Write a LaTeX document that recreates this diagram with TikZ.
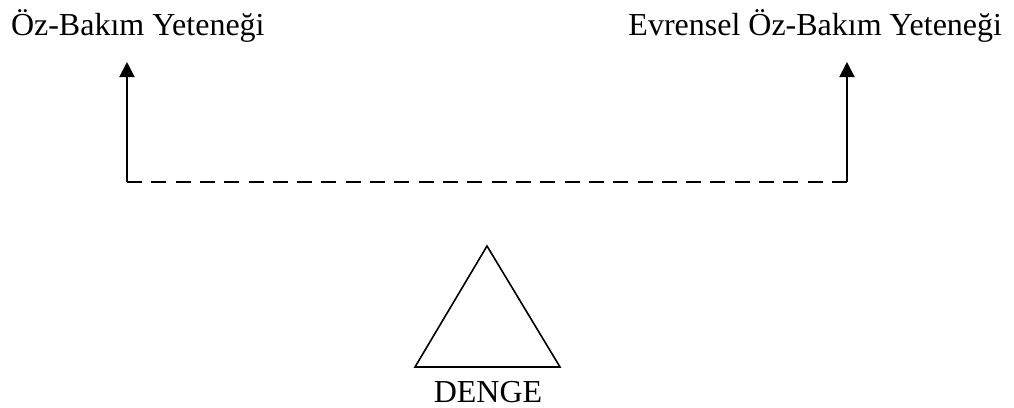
\documentclass[tikz,border=0pt]{standalone}
\usepackage{fontspec}
\setmainfont{Liberation Serif}
\usetikzlibrary{arrows.meta}
\begin{document}
\begin{tikzpicture}[x=1pt,y=-1pt,
  lbl/.style={inner sep=0pt,outer sep=0pt,font=\fontsize{32}{38}\selectfont},
  arr/.style={line width=2pt,-{Triangle[length=15pt,width=15pt]}},
  dash line/.style={line width=2pt,dash pattern=on 15pt off 9.31pt},
  tri/.style={line width=1.6pt,line join=miter}]
\useasboundingbox (0,0) rectangle (1014,407);
\node[lbl,anchor=base west] (L) at (11,35) {Öz-Bakım Yeteneği};
\node[lbl,anchor=base east] (R) at (1002,35) {Evrensel Öz-Bakım Yeteneği};
\node[lbl,anchor=base] (D) at (488,402) {DENGE};
\coordinate (Ltop) at (127,62);
\coordinate (Rtop) at (847,62);
\coordinate (Lc) at (127,182);
\coordinate (Rc) at (847,182);
\draw[arr] (Lc) -- (Ltop);
\draw[arr] (Rc) -- (Rtop);
\draw[dash line] (Lc) -- (Rc);
\coordinate (A) at (487,246);
\coordinate (B1) at (415,367);
\coordinate (B2) at (560,367);
\draw[tri] (A) -- (B1) -- (B2) -- cycle;
\end{tikzpicture}
\end{document}
